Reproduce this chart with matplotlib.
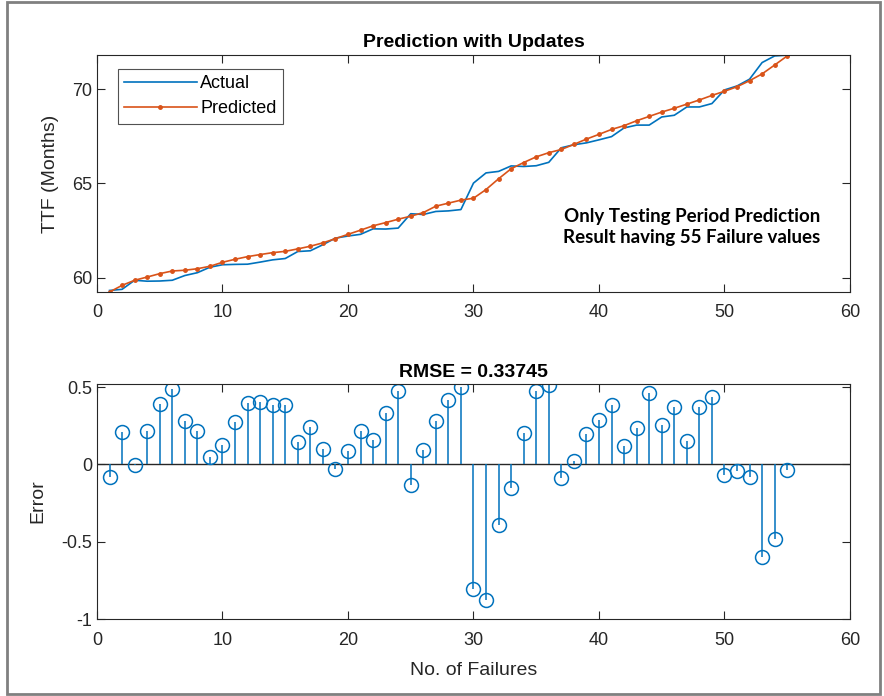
import numpy as np
import matplotlib
matplotlib.use("Agg")
import matplotlib.pyplot as plt
from matplotlib.patches import Rectangle

# failure index
failures = list(range(1, 56))

predicted = [59.26, 59.61, 59.88, 60.05, 60.23, 60.37, 60.41, 60.49, 60.62, 60.83,
             60.99, 61.13, 61.24, 61.34, 61.41, 61.54, 61.68, 61.86, 62.08, 62.31,
             62.53, 62.76, 62.93, 63.11, 63.27, 63.46, 63.80, 63.96, 64.12, 64.22,
             64.68, 65.25, 65.78, 66.11, 66.41, 66.63, 66.80, 67.07, 67.35, 67.60,
             67.86, 68.06, 68.32, 68.55, 68.78, 68.98, 69.20, 69.42, 69.66, 69.88,
             70.12, 70.44, 70.80, 71.27, 71.75]

actual = [59.34, 59.40, 59.88, 59.83, 59.84, 59.88, 60.13, 60.28, 60.57, 60.70,
          60.72, 60.73, 60.84, 60.96, 61.03, 61.40, 61.44, 61.76, 62.11, 62.22,
          62.31, 62.60, 62.59, 62.64, 63.40, 63.36, 63.52, 63.55, 63.62, 65.02,
          65.56, 65.64, 65.93, 65.90, 65.94, 66.12, 66.89, 67.05, 67.15, 67.31,
          67.48, 67.94, 68.09, 68.09, 68.52, 68.61, 69.05, 69.05, 69.23, 69.95,
          70.16, 70.52, 71.40, 71.75, 71.79]

error = [-0.079, 0.212, -0.004, 0.219, 0.393, 0.490, 0.282, 0.214, 0.045, 0.127,
         0.272, 0.399, 0.403, 0.384, 0.382, 0.144, 0.244, 0.102, -0.032, 0.085,
         0.219, 0.159, 0.335, 0.473, -0.132, 0.096, 0.282, 0.414, 0.501, -0.803,
         -0.879, -0.389, -0.151, 0.206, 0.473, 0.512, -0.085, 0.023, 0.197, 0.289,
         0.384, 0.119, 0.234, 0.463, 0.257, 0.374, 0.151, 0.374, 0.433, -0.068,
         -0.042, -0.079, -0.599, -0.482, -0.036]

blue = "#0072BD"
red = "#D95319"
plt.rcParams["font.family"] = ["Liberation Sans", "DejaVu Sans"]

fig = plt.figure(figsize=(8.84, 6.96), dpi=100)
ax1 = fig.add_axes([0.1097, 0.5805, 0.8518, 0.3405])
ax2 = fig.add_axes([0.1097, 0.1106, 0.8518, 0.3377])

for ax in (ax1, ax2):
    ax.set_xlim(0, 60)
    ax.set_xticks(range(0, 61, 10))
    ax.tick_params(direction="in", length=6, top=True, right=True,
                   labelsize=13, colors="#262626", width=0.8)
    ax.tick_params(axis="x", pad=9)
    for s in ax.spines.values():
        s.set_color("#262626")
        s.set_linewidth(0.8)

# top: actual vs predicted
ax1.plot(failures, actual, color=blue, lw=1.2, label="Actual")
ax1.plot(failures, predicted, color=red, lw=1.2, marker=".", ms=5, label="Predicted")
ax1.set_ylim(59.26, 71.8)
ax1.set_yticks([60, 65, 70])
ax1.set_ylabel("TTF (Months)", fontsize=14, color="#262626", labelpad=9)
ax1.set_title("Prediction with Updates", fontsize=14, fontweight="bold", pad=6)
leg = ax1.legend(loc="upper left", fontsize=13, handlelength=4.0, handletextpad=0.2,
                 borderpad=0.35, labelspacing=0.45, fancybox=False,
                 bbox_to_anchor=(0.016, 0.98))
leg.get_frame().set_edgecolor("#262626")
leg.get_frame().set_linewidth(0.8)
ax1.text(47.4, 62.7, "Only Testing Period Prediction\nResult having 55 Failure values",
         ha="center", va="center", fontsize=13.5, fontweight="bold",
         family=["Lato", "DejaVu Sans"], linespacing=1.3)

# bottom: error stems
ax2.axhline(0, color="#262626", lw=1)
ax2.vlines(failures, 0, error, color=blue, lw=1.1)
ax2.plot(failures, error, "o", mfc="none", mec=blue, ms=10, mew=1.1)
ax2.set_ylim(-1, 0.52)
ax2.set_yticks([-1, -0.5, 0, 0.5])
ax2.set_yticklabels(["-1", "-0.5", "0", "0.5"])
ax2.set_ylabel("Error", fontsize=14, color="#262626", labelpad=11)
ax2.set_xlabel("No. of Failures", fontsize=14, color="#262626", labelpad=10)
ax2.set_title("RMSE = 0.33745", fontsize=14, fontweight="bold", pad=5)

fig.patches.append(Rectangle((7 / 884, 2 / 696), 873 / 884, 692 / 696,
                             transform=fig.transFigure, fill=False,
                             edgecolor="#808080", lw=2))

fig.savefig("out.png", dpi=100)
